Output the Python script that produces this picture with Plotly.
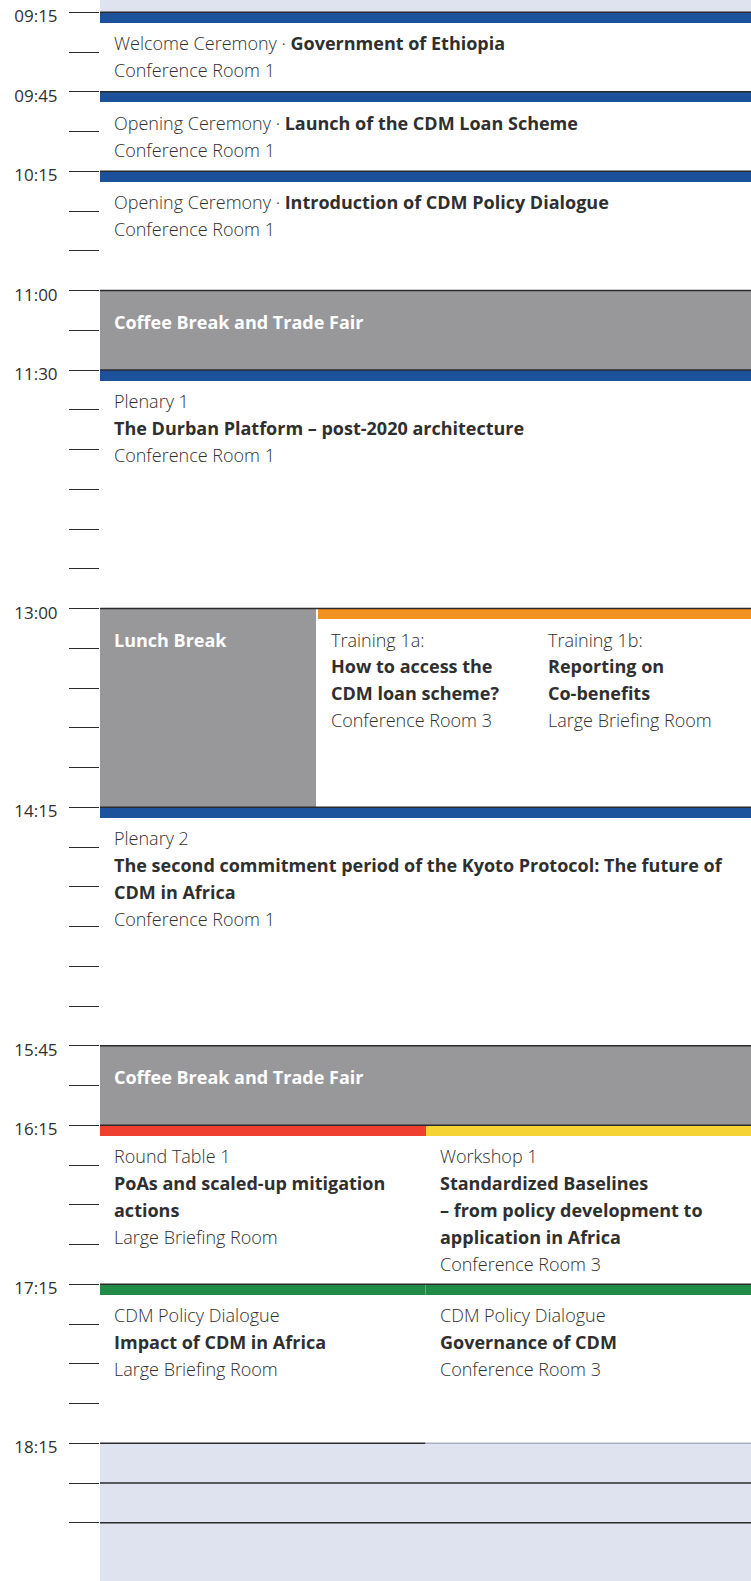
import plotly.graph_objects as go

# ---------------- data ----------------
label_times = ["09:15", "09:45", "10:15", "11:00", "11:30", "13:00", "14:15",
               "15:45", "16:15", "17:15", "18:15"]
extra_line_times = ["18:30", "18:45"]
tick_first, tick_last = "09:15", "18:45"
day_start, day_end = "09:15", "18:15"

session_start = ["09:15", "09:45", "10:15", "11:00", "11:30", "13:00", "13:00", "13:00",
                 "14:15", "15:45", "16:15", "16:15", "17:15", "17:15"]
session_end = ["09:45", "10:15", "11:00", "11:30", "13:00", "14:15", "14:15", "14:15",
               "15:45", "16:15", "17:15", "17:15", "18:15", "18:15"]
session_track = ["full", "full", "full", "full", "full", "third1", "third2", "third3",
                 "full", "full", "half1", "half2", "half1", "half2"]
session_type = ["ceremony", "ceremony", "ceremony", "break", "plenary", "break",
                "training", "training", "plenary", "break", "roundtable", "workshop",
                "dialogue", "dialogue"]
session_lines = [
    ["Welcome Ceremony · <b>Government of Ethiopia</b>", "Conference Room 1"],
    ["Opening Ceremony · <b>Launch of the CDM Loan Scheme</b>", "Conference Room 1"],
    ["Opening Ceremony · <b>Introduction of CDM Policy Dialogue</b>", "Conference Room 1"],
    ["<b>Coffee Break and Trade Fair</b>"],
    ["Plenary 1", "<b>The Durban Platform – post-2020 architecture</b>", "Conference Room 1"],
    ["<b>Lunch Break</b>"],
    ["Training 1a:", "<b>How to access the</b>", "<b>CDM loan scheme?</b>", "Conference Room 3"],
    ["Training 1b:", "<b>Reporting on</b>", "<b>Co-benefits</b>", "Large Briefing Room"],
    ["Plenary 2", "<b>The second commitment period of the Kyoto Protocol: The future of</b>",
     "<b>CDM in Africa</b>", "Conference Room 1"],
    ["<b>Coffee Break and Trade Fair</b>"],
    ["Round Table 1", "<b>PoAs and scaled-up mitigation</b>", "<b>actions</b>", "Large Briefing Room"],
    ["Workshop 1", "<b>Standardized Baselines</b>", "<b>– from policy development to</b>",
     "<b>application in Africa</b>", "Conference Room 3"],
    ["CDM Policy Dialogue", "<b>Impact of CDM in Africa</b>", "Large Briefing Room"],
    ["CDM Policy Dialogue", "<b>Governance of CDM</b>", "Conference Room 3"],
]

# ---------------- layout / style ----------------
W, H = 751, 1581
LEFT = 100
PX_PER_MIN = 2.65
TOP_PX = 12.3

TRACK_SPAN = {"full": (0.0, 1.0), "third1": (0.0, 1 / 3), "third2": (1 / 3, 2 / 3),
              "third3": (2 / 3, 1.0), "half1": (0.0, 0.5), "half2": (0.5, 1.0)}
TYPE_COLOR = {"ceremony": "#1b529b", "plenary": "#1b529b", "break": "#98989b",
              "training": "#f39221", "roundtable": "#ee3f31", "workshop": "#f6d334",
              "dialogue": "#218c47"}
LAVENDER = "#dfe3ef"
LINE_COLOR = "#2b2b2b"
TEXT_COLOR = "#2f2f2f"
FONT = "Open Sans"


def tmin(s):
    h, m = s.split(":")
    return int(h) * 60 + int(m)


px_w = W - LEFT
x_pad = 12 / px_w
band_min = 10.5 / PX_PER_MIN
first_off = 31.0 / PX_PER_MIN
line_step = 26.8 / PX_PER_MIN

y_top = tmin(day_start) - TOP_PX / PX_PER_MIN
y_bot = tmin(day_start) + (H - TOP_PX) / PX_PER_MIN

fig = go.Figure()

# white day area
ds, de = tmin(day_start), tmin(day_end)
fig.add_trace(go.Bar(x=[0.5], width=[1.0], base=[ds], y=[de - ds],
                     marker=dict(color="white", line=dict(width=0)),
                     hoverinfo="skip", showlegend=False))

# break fills
bx, bw, bb, by = [], [], [], []
for s, e, tr, ty in zip(session_start, session_end, session_track, session_type):
    if ty == "break":
        x0, x1 = TRACK_SPAN[tr]
        if x1 < 1:
            x1 -= 1 / px_w
        bx.append((x0 + x1) / 2); bw.append(x1 - x0)
        bb.append(tmin(s)); by.append(tmin(e) - tmin(s))
fig.add_trace(go.Bar(x=bx, width=bw, base=bb, y=by,
                     marker=dict(color=TYPE_COLOR["break"], line=dict(width=0)),
                     hoverinfo="skip", showlegend=False))

# colour bands
cx, cw, cb, cy, cc = [], [], [], [], []
for s, e, tr, ty in zip(session_start, session_end, session_track, session_type):
    if ty != "break":
        x0, x1 = TRACK_SPAN[tr]
        if ty == "training" and tr == "third2":
            x0 += 1 / px_w
        cx.append((x0 + x1) / 2); cw.append(x1 - x0)
        cb.append(tmin(s)); cy.append(band_min); cc.append(TYPE_COLOR[ty])
fig.add_trace(go.Bar(x=cx, width=cw, base=cb, y=cy,
                     marker=dict(color=cc, line=dict(width=0)),
                     hoverinfo="skip", showlegend=False))

# thin divider in the green band
fig.add_trace(go.Scatter(x=[0.5, 0.5], y=[tmin("17:15"), tmin("17:15") + band_min],
                         mode="lines", line=dict(color="#5fae7c", width=1),
                         hoverinfo="skip", showlegend=False))

# horizontal time lines
lx, ly = [], []
for t in label_times[:-1] + extra_line_times:
    lx += [0, 1, None]; ly += [tmin(t), tmin(t), None]
lx += [0, 0.5, None]; ly += [tmin("18:15"), tmin("18:15"), None]
fig.add_trace(go.Scatter(x=lx, y=ly, mode="lines",
                         line=dict(color=LINE_COLOR, width=1.5),
                         hoverinfo="skip", showlegend=False))
fig.add_trace(go.Scatter(x=[0.5, 1], y=[tmin("18:15"), tmin("18:15")], mode="lines",
                         line=dict(color="#a9afc2", width=1.5),
                         hoverinfo="skip", showlegend=False))

# session texts
for s, tr, ty, lines in zip(session_start, session_track, session_type, session_lines):
    x0, _ = TRACK_SPAN[tr]
    col = "white" if ty == "break" else TEXT_COLOR
    for i, ln in enumerate(lines):
        fig.add_annotation(x=x0 + x_pad, y=tmin(s) + first_off + i * line_step,
                           xref="x", yref="y", text=ln, showarrow=False,
                           xanchor="left", yanchor="middle",
                           font=dict(family=FONT, size=18, color=col, weight=300))

# y axis ticks every 15 minutes
tickvals = list(range(tmin(tick_first), tmin(tick_last) + 1, 15))
ticktext = []
for v in tickvals:
    lab = "%02d:%02d" % (v // 60, v % 60)
    ticktext.append(lab if lab in label_times else "")

fig.update_layout(
    width=W, height=H,
    margin=dict(l=LEFT, r=0, t=0, b=0, autoexpand=False),
    paper_bgcolor="white", plot_bgcolor=LAVENDER,
    barmode="overlay", bargap=0,
    showlegend=False,
    xaxis=dict(range=[0, 1], visible=False, fixedrange=True),
    yaxis=dict(range=[y_bot, y_top], showgrid=False, zeroline=False, showline=False,
               automargin=False,
               tickmode="array", tickvals=tickvals, ticktext=ticktext,
               ticks="outside", ticklen=30, tickwidth=1.3, tickcolor=LINE_COLOR,
               ticklabelstandoff=8, ticklabelshift=-4,
               tickfont=dict(family=FONT, size=17, color=TEXT_COLOR),
               fixedrange=True),
)

fig.write_html("out.html", config={"displayModeBar": False},
               post_script="document.body.style.margin='0';")
